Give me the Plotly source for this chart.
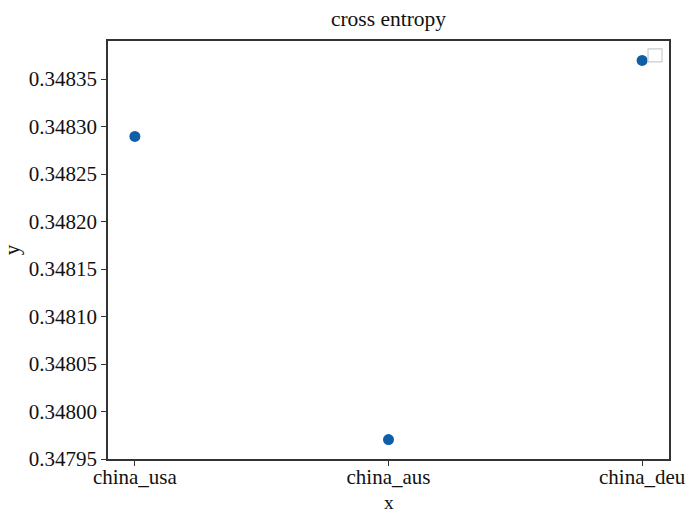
import plotly.graph_objects as go

categories = ["china_usa", "china_aus", "china_deu"]
values = [0.3482895, 0.3479705, 0.3483696]
y_ticks = [0.34795, 0.34800, 0.34805, 0.34810, 0.34815, 0.34820, 0.34825, 0.34830, 0.34835]
y_tick_labels = ["%.5f" % v for v in y_ticks]

fig = go.Figure()
fig.add_trace(go.Scatter(
    x=[0, 1, 2], y=values, mode="markers",
    marker=dict(color="#0e5ea8", size=11),
    showlegend=False,
))

font = "Liberation Serif, Times New Roman, serif"
axis_common = dict(
    showline=True, linecolor="#333333", linewidth=1.5, mirror=True,
    ticks="outside", ticklen=5, tickcolor="#333333", tickwidth=1.2,
    showgrid=False, zeroline=False, automargin=False,
    tickfont=dict(family=font, size=21, color="#111111"),
)
fig.update_layout(
    width=689, height=514,
    margin=dict(l=108, r=20, t=41, b=55),
    paper_bgcolor="white", plot_bgcolor="white",
    title=dict(text="cross entropy", x=0.5, xanchor="center", xref="paper",
               y=1, yref="container", yanchor="top", pad=dict(t=11),
               font=dict(family=font, size=21.5, color="#111111")),
    xaxis=dict(**axis_common, range=[-0.106, 2.106],
               tickvals=[0, 1, 2], ticktext=categories, ticklabelstandoff=-7),
    yaxis=dict(**axis_common, range=[0.34795, 0.34839],
               tickvals=y_ticks, ticktext=y_tick_labels,
               title=dict(text="y", font=dict(family=font, size=21, color="#111111"), standoff=6)),
)
# x axis title placed as in reference
fig.add_annotation(text="x", xref="paper", yref="paper", x=0.5, y=-0.103,
                   xanchor="center", yanchor="middle", showarrow=False,
                   font=dict(family=font, size=19.5, color="#111111"))
# empty legend box (as in reference)
fig.add_shape(type="rect", xref="paper", yref="paper",
              x0=0.9626, x1=0.9875, y0=0.950, y1=0.981,
              line=dict(color="#cccccc", width=1.2), fillcolor="white")

fig.write_html("out.html")
